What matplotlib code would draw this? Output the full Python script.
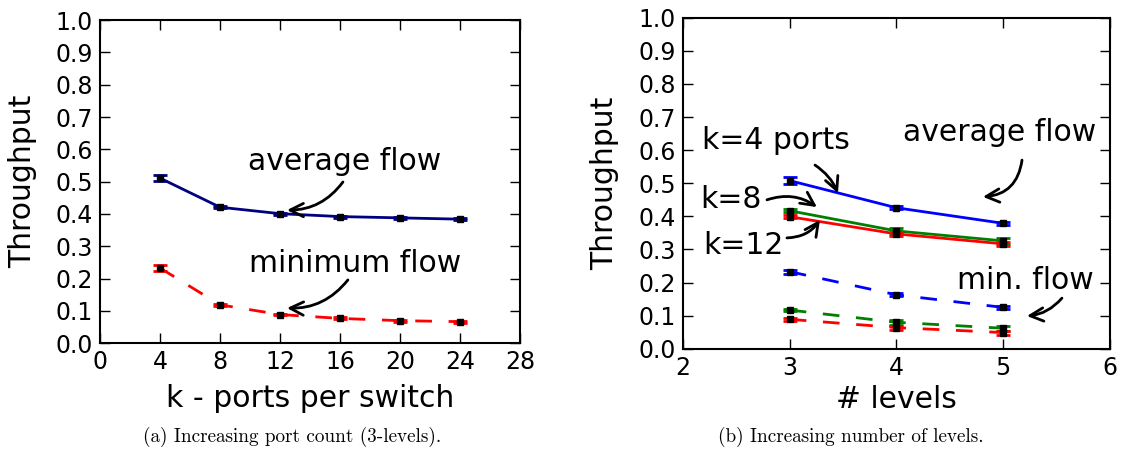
import matplotlib
matplotlib.use("Agg")
import matplotlib.pyplot as plt

# (a) throughput vs. ports per switch, 3-level topology
ports = [4, 8, 12, 16, 20, 24]
avg_flow = [0.511, 0.421, 0.401, 0.392, 0.388, 0.384]
avg_err = [0.010, 0.004, 0.003, 0.003, 0.003, 0.003]
min_flow = [0.233, 0.119, 0.089, 0.077, 0.070, 0.067]
min_err = [0.008, 0.004, 0.003, 0.003, 0.003, 0.003]

# (b) throughput vs. number of levels for k = 4, 8, 12
levels = [3, 4, 5]
k_values = [4, 8, 12]
k_colors = ["blue", "green", "red"]
avg_by_k = [[0.508, 0.426, 0.379],
            [0.417, 0.356, 0.326],
            [0.399, 0.347, 0.317]]
avg_err_by_k = [[0.010, 0.005, 0.004],
                [0.004, 0.008, 0.008],
                [0.004, 0.006, 0.006]]
min_by_k = [[0.233, 0.163, 0.125],
            [0.117, 0.080, 0.062],
            [0.089, 0.064, 0.049]]
min_err_by_k = [[0.006, 0.005, 0.004],
                [0.004, 0.008, 0.008],
                [0.004, 0.006, 0.006]]

plt.rcParams.update({
    "font.family": "DejaVu Sans",
    "xtick.direction": "in",
    "ytick.direction": "in",
    "xtick.top": True,
    "ytick.right": True,
    "xtick.major.size": 7.5,
    "ytick.major.size": 7.5,
    "xtick.major.width": 1.0,
    "ytick.major.width": 1.0,
    "xtick.major.pad": 5,
    "ytick.major.pad": 5,
    "xtick.labelsize": 17,
    "ytick.labelsize": 17,
    "axes.linewidth": 1.5,
})

LABEL_SIZE = 21.5

fig = plt.figure(figsize=(11.22, 4.57), dpi=100)
ax1 = fig.add_axes([0.0891, 0.2488, 0.3743, 0.7074])
ax2 = fig.add_axes([0.6087, 0.2368, 0.3806, 0.7243])

err_kw = dict(fmt="s", ms=4, mfc="black", mec="black", capsize=5,
              elinewidth=2, capthick=2)
arrow = dict(arrowstyle="->", color="black", lw=2, mutation_scale=24,
             shrinkA=0, shrinkB=0)


def curved_arrow(ax, tail, head, rad):
    ax.annotate("", xy=head, xytext=tail,
                arrowprops=dict(connectionstyle="arc3,rad=%g" % rad, **arrow))


def label(ax, x, y, s):
    ax.text(x, y, s, fontsize=LABEL_SIZE, ha="center", va="center")


# panel (a)
ax1.plot(ports, avg_flow, "-", color="navy", lw=2)
ax1.errorbar(ports, avg_flow, yerr=avg_err, ecolor="navy", **err_kw)
ax1.plot(ports, min_flow, "--", color="red", lw=2, dashes=(6, 6))
ax1.errorbar(ports, min_flow, yerr=min_err, ecolor="red", **err_kw)
ax1.set_xlim(0, 28)
ax1.set_xticks(range(0, 29, 4))
ax1.set_ylim(0, 1.0)
ax1.set_yticks([i / 10 for i in range(11)])
ax1.set_xlabel("k - ports per switch", fontsize=LABEL_SIZE, labelpad=7)
ax1.set_ylabel("Throughput", fontsize=LABEL_SIZE, labelpad=13)

label(ax1, 16.33, 0.561, "average flow")
curved_arrow(ax1, (16.2, 0.499), (12.47, 0.412), -0.25)
label(ax1, 17.0, 0.248, "minimum flow")
curved_arrow(ax1, (16.53, 0.196), (12.47, 0.109), -0.25)

# panel (b)
for avg, aerr, mn, merr, c in zip(avg_by_k, avg_err_by_k, min_by_k,
                                  min_err_by_k, k_colors):
    ax2.plot(levels, avg, "-", color=c, lw=2)
    ax2.errorbar(levels, avg, yerr=aerr, ecolor=c, **err_kw)
    ax2.plot(levels, mn, "--", color=c, lw=2, dashes=(6, 6))
    ax2.errorbar(levels, mn, yerr=merr, ecolor=c, **err_kw)
ax2.set_xlim(2, 6)
ax2.set_xticks([2, 3, 4, 5, 6])
ax2.set_ylim(0, 1.0)
ax2.set_yticks([i / 10 for i in range(11)])
ax2.set_xlabel("# levels", fontsize=LABEL_SIZE, labelpad=4)
ax2.set_ylabel("Throughput", fontsize=LABEL_SIZE, labelpad=14)

label(ax2, 2.871, 0.628, "k=%d ports" % k_values[0])
curved_arrow(ax2, (3.237, 0.555), (3.452, 0.470), -0.15)
label(ax2, 4.97, 0.652, "average flow")
curved_arrow(ax2, (5.176, 0.570), (4.81, 0.459), -0.4)
label(ax2, 2.45, 0.450, "k=%d" % k_values[1])
curved_arrow(ax2, (2.787, 0.450), (3.255, 0.428), -0.25)
label(ax2, 2.562, 0.311, "k=%d" % k_values[2])
curved_arrow(ax2, (2.974, 0.335), (3.283, 0.389), 0.25)
label(ax2, 5.204, 0.205, "min. flow")
curved_arrow(ax2, (5.55, 0.153), (5.222, 0.099), -0.2)

fig.text(0.260, 0.044, "(a) Increasing port count (3-levels).",
         fontsize=13.8, family="cmr10", ha="center", va="center")
fig.text(0.758, 0.044, "(b) Increasing number of levels.",
         fontsize=13.8, family="cmr10", ha="center", va="center")

fig.savefig("out.png", dpi=100)
